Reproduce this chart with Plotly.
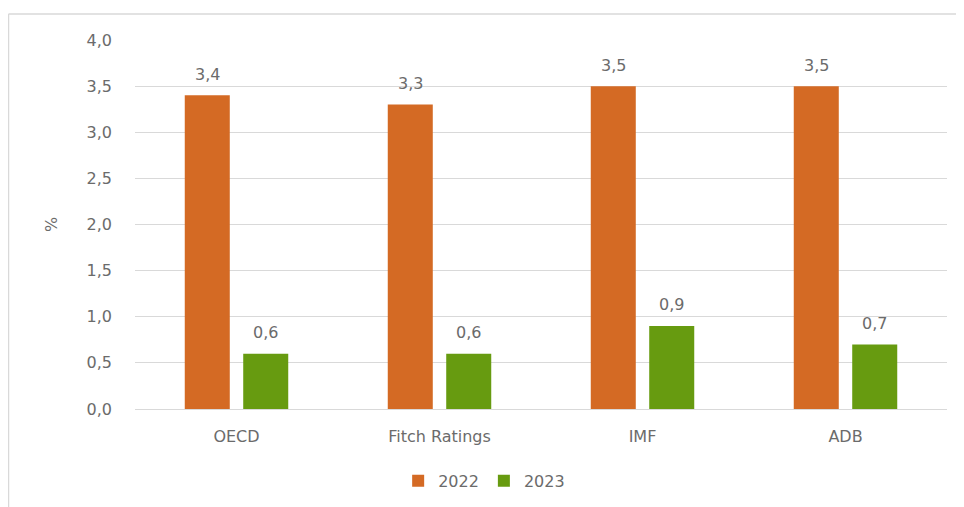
import plotly.graph_objects as go

categories = ["OECD", "Fitch Ratings", "IMF", "ADB"]
values_2022 = [3.4, 3.3, 3.5, 3.5]
values_2023 = [0.6, 0.6, 0.9, 0.7]
series_names = ["2022", "2023"]
tick_vals = [0.0, 0.5, 1.0, 1.5, 2.0, 2.5, 3.0, 3.5, 4.0]

ORANGE = "#D46A24"
GREEN = "#679B10"
TXT = "#6B6B6B"
FONT = "DejaVu Sans, sans-serif"
FS = 16

fig = go.Figure()
fig.add_trace(go.Bar(x=categories, y=values_2022, name=series_names[0],
                     marker=dict(color=ORANGE, line=dict(width=0))))
fig.add_trace(go.Bar(x=categories, y=values_2023, name=series_names[1],
                     marker=dict(color=GREEN, line=dict(width=0))))

# data labels above each bar (offset to each bar of the group)
annotations = []
for vals, dx in ((values_2022, -29), (values_2023, 29)):
    for c, v in zip(categories, vals):
        annotations.append(dict(x=c, y=v, xref="x", yref="y", text=f"{v:.1f}".replace(".", ","),
                                showarrow=False, xshift=dx, yshift=21, yanchor="middle",
                                font=dict(size=FS, color=TXT, family=FONT)))

BORDER = "#D9D9D9"
fig.update_layout(
    width=964, height=507,
    margin=dict(l=127, r=25, t=32, b=106, autoexpand=False),
    paper_bgcolor="white", plot_bgcolor="white",
    barmode="group", bargap=0.424, bargroupgap=0.23,
    separators=",.",
    font=dict(family=FONT, color=TXT, size=FS),
    showlegend=True,
    legend=dict(orientation="h", x=0.43, xanchor="center", y=-0.195, yanchor="middle",
                font=dict(size=FS, color=TXT), itemsizing="constant",
                traceorder="normal", itemwidth=30),
    annotations=annotations,
    shapes=[
        dict(type="line", xref="paper", yref="paper", x0=-0.1558, x1=1.03, y0=1.0705, y1=1.0705,
             line=dict(color=BORDER, width=1.5), layer="below"),
        dict(type="line", xref="paper", yref="paper", x0=-0.1558, x1=-0.1558, y0=1.0705, y1=-0.3,
             line=dict(color=BORDER, width=1.5), layer="below"),
    ],
)
fig.update_yaxes(range=[0, 4.0], tickvals=tick_vals, tickformat=".1f",
                 showgrid=True, gridcolor="#D9D9D9", gridwidth=1,
                 zeroline=False, showline=False, ticks="",
                 tickfont=dict(size=FS, color=TXT), ticklabelstandoff=22,
                 title=dict(text="%", font=dict(size=FS, color=TXT), standoff=24))
fig.update_xaxes(showgrid=False, showline=True, linecolor="#D9D9D9", linewidth=1,
                 ticks="", tickfont=dict(size=FS, color=TXT), ticklabelstandoff=13)

fig.write_html("out.html")
